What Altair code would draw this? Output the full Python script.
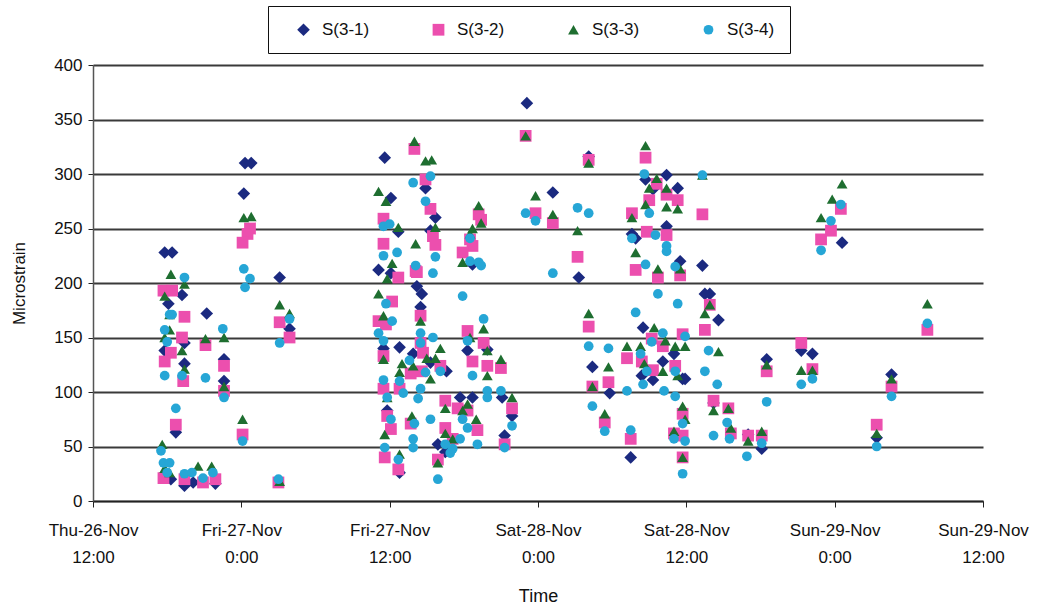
import json
import altair as alt
import pandas as pd

# ---------------- data (hours after Thu-26-Nov 12:00, microstrain) ----------------
SERIES = ["S(3-1)", "S(3-2)", "S(3-3)", "S(3-4)"]
COLORS = ["#1b2a80", "#ec4fae", "#1e6e30", "#26a6d6"]
SHAPES = ["diamond", "square", "triangle-up", "circle"]
MARK_SIZES = [160, 95, 115, 110]

s1_hours = [5.8, 6.4, 6.1, 7.2, 5.8, 7.4, 7.4, 9.2, 10.6, 10.6, 6.7, 6.3, 7.4, 8.1, 9.9,
            12.3, 12.8, 12.2, 15.1, 15.9,
            23.6, 24.1, 24.7, 23.1, 24.1, 26.2, 23.5, 24.8, 25.9, 23.8, 24.8,
            35.1, 26.9, 27.7, 27.3, 30.7, 37.2, 26.6, 26.5, 27.3, 28.6, 30.3, 31.9, 29.7, 30.7,
            33.1, 33.9, 33.3, 27.9, 28.5,
            39.3, 40.1, 44.7, 45.3, 46.4, 47.3, 43.6, 43.9, 46.4, 47.5, 44.5, 40.4, 41.8, 44.4,
            45.3, 46.1, 47.0, 47.7, 43.5,
            49.3, 49.9, 49.5, 50.6, 50.2, 53.0, 54.1, 54.5, 57.3, 58.2, 47.9,
            60.6, 64.6, 63.4]
s1_values = [228, 228, 181, 189, 138, 145, 126, 172, 130, 110, 63, 20, 14, 17, 16,
             310, 310, 282, 205, 158,
             315, 278, 247, 212, 209, 197, 140, 141, 135, 83, 26,
             365, 287, 260, 248, 217, 283, 190, 178, 127, 119, 138, 139, 95, 95,
             95, 78, 60, 52, 45,
             205, 316, 295, 286, 299, 287, 245, 241, 252, 220, 159, 123, 99, 115,
             111, 128, 135, 112, 40,
             216, 190, 190, 166, 90, 61, 48, 130, 138, 135, 112,
             237, 116, 58]

s2_hours = [5.7, 6.4, 7.4, 7.2, 9.1, 6.3, 5.8, 7.3, 10.6, 10.6, 6.7, 12.1, 5.7, 7.4, 8.9, 9.9,
            12.7, 12.5, 12.1, 15.1, 15.0, 15.9,
            26.0, 23.5, 23.5, 26.1, 24.7, 24.2, 23.1, 23.7, 23.5, 25.7, 23.5, 24.8, 23.8, 24.1,
            23.6, 24.7, 25.7,
            35.0, 26.9, 27.3, 27.5, 27.7, 26.2, 31.2, 31.4, 30.5, 30.7, 29.9, 35.8, 37.2, 26.5,
            26.5, 26.7, 28.1, 26.6, 30.3, 31.6, 30.7, 31.9, 33.0, 28.5, 29.5, 30.3, 33.9, 31.1,
            28.5, 29.1, 27.9, 33.3,
            40.1, 44.7, 45.6, 46.4, 45.0, 47.3, 43.6, 39.2, 44.8, 46.4, 43.9, 45.7, 47.5, 40.1,
            43.2, 45.2, 46.1, 47.7, 47.1, 44.4, 45.3, 41.7, 40.4, 41.4, 43.5, 47.0, 47.7, 47.7,
            47.7,
            49.3, 58.9, 49.9, 49.5, 50.2, 51.4, 51.6, 53.0, 54.1, 54.5, 57.3, 58.2,
            60.5, 59.7, 67.5, 64.6, 63.4]
s2_values = [193, 193, 169, 150, 143, 136, 128, 110, 124, 101, 70, 61, 21, 20, 17, 20,
             250, 245, 237, 164, 17, 150,
             323, 259, 236, 211, 205, 183, 165, 162, 133, 117, 103, 103, 78, 66,
             40, 29, 71,
             335, 295, 268, 243, 235, 210, 263, 258, 240, 234, 228, 264, 255, 170,
             145, 136, 124, 119, 156, 145, 128, 124, 122, 92, 85, 83, 85, 65,
             67, 57, 38, 52,
             313, 315, 291, 281, 276, 276, 264, 224, 247, 244, 212, 205, 207, 160,
             131, 149, 142, 153, 124, 128, 120, 109, 105, 72, 57, 62, 80, 60,
             40,
             263, 240, 180, 157, 92, 85, 62, 60, 60, 119, 145, 121,
             268, 248, 157, 105, 70]

s3_hours = [12.2, 12.8, 6.3, 7.4, 5.8, 6.2, 6.2, 5.8, 7.2, 9.1, 10.6, 7.4, 10.6, 12.1, 5.6,
            5.8, 6.2, 8.5, 9.6, 15.1, 15.9, 15.1,
            26.0, 23.1, 23.7, 24.7, 24.2, 26.1, 23.8, 23.1, 23.5, 23.5, 25.0, 25.9, 24.8, 23.8,
            23.6, 24.8, 25.8,
            35.0, 26.9, 27.4, 27.7, 31.2, 31.4, 30.7, 30.5, 29.9, 35.8, 37.2, 26.5, 28.1, 27.7,
            27.0, 27.3, 31.6, 30.5, 31.9, 31.9, 33.0, 28.5, 30.3, 29.9, 33.9, 31.0, 28.5, 29.1,
            27.9,
            44.7, 40.1, 45.6, 45.0, 46.4, 44.7, 46.4, 47.3, 43.6, 39.2, 43.9, 45.7, 47.5, 40.1,
            45.4, 43.2, 44.3, 46.3, 47.1, 47.9, 44.6, 46.1, 47.3, 41.7, 40.4, 41.4, 47.0, 47.7,
            47.9, 47.7,
            49.3, 58.9, 49.9, 49.5, 50.6, 50.2, 51.4, 51.6, 53.0, 54.1, 54.5, 57.3, 58.2,
            60.6, 59.8, 67.5, 64.6, 63.4]
s3_values = [260, 261, 208, 199, 188, 171, 157, 150, 138, 149, 150, 121, 105, 75, 52,
             30, 26, 32, 32, 180, 172, 18,
             330, 284, 275, 251, 218, 236, 204, 190, 170, 130, 126, 124, 118, 95,
             61, 43, 78,
             335, 312, 313, 251, 271, 255, 250, 245, 219, 280, 263, 165, 140, 131,
             131, 112, 158, 150, 138, 115, 130, 85, 89, 83, 95, 75, 62, 57,
             35,
             326, 310, 296, 287, 287, 272, 270, 268, 260, 248, 228, 213, 213, 172,
             159, 142, 142, 147, 142, 142, 126, 119, 115, 123, 105, 80, 64, 87,
             75, 40,
             299, 260, 180, 172, 137, 83, 85, 67, 55, 64, 125, 120, 120,
             291, 277, 181, 112, 62]

s4_hours = [12.2, 12.7, 12.3, 7.4, 6.2, 6.4, 5.8, 10.5, 6.0, 15.1, 7.2, 5.8, 9.1, 10.6, 6.7,
            12.1, 5.5, 5.7, 6.2, 6.0, 7.4, 8.0, 8.9, 9.7, 15.0, 15.9,
            25.9, 23.5, 24.0, 23.5, 24.6, 26.1, 23.7, 24.2, 23.1, 23.5, 25.6, 23.5, 24.8, 25.1,
            23.8, 24.1, 23.6, 24.7, 26.0, 25.9, 25.9,
            27.3, 26.9, 27.7, 27.5, 30.5, 30.5, 31.2, 31.4, 35.0, 35.8, 37.2, 29.9, 26.5, 27.5,
            26.5, 28.1, 26.9, 31.6, 30.3, 30.7, 26.5, 26.3, 31.9, 31.9, 33.0, 33.9, 27.3, 29.9,
            30.3, 29.7, 31.1, 28.5, 28.9, 29.1, 27.9, 33.3,
            44.6, 45.0, 39.2, 40.1, 43.6, 45.5, 46.4, 46.4, 44.7, 47.1, 45.7, 47.3, 43.9, 46.1,
            45.2, 47.9, 40.1, 41.7, 44.3, 44.8, 47.1, 44.5, 43.2, 46.2, 47.1, 40.4, 41.4, 43.5,
            47.0, 47.7, 47.9, 47.7,
            49.3, 58.9, 49.8, 49.5, 50.5, 50.2, 51.3, 51.5, 52.9, 54.1, 54.5, 57.3, 58.2,
            60.5, 59.7, 67.5, 64.6, 63.4]
s4_values = [213, 204, 196, 205, 171, 171, 157, 158, 146, 145, 115, 115, 113, 95, 85,
             55, 46, 35, 35, 26, 25, 26, 21, 26, 20, 167,
             292, 252, 254, 225, 228, 216, 181, 165, 154, 147, 129, 111, 110, 99,
             95, 75, 49, 38, 71, 57, 49,
             298, 275, 224, 209, 241, 220, 219, 216, 264, 257, 209, 188, 154, 150,
             145, 119, 118, 167, 147, 115, 103, 94, 101, 95, 101, 69, 75, 75,
             67, 57, 52, 52, 44, 48, 20, 49,
             300, 264, 269, 264, 241, 244, 234, 229, 217, 215, 190, 181, 173, 154,
             146, 151, 142, 140, 135, 119, 119, 107, 101, 101, 96, 87, 64, 65,
             57, 71, 55, 25,
             299, 230, 138, 119, 107, 60, 72, 57, 41, 53, 91, 107, 112,
             272, 257, 163, 96, 50]

TICK_HOURS = [0, 12, 24, 36, 48, 60, 72]
TICK_DAY = ["Thu-26-Nov", "Fri-27-Nov", "Fri-27-Nov", "Sat-28-Nov", "Sat-28-Nov",
            "Sun-29-Nov", "Sun-29-Nov"]
TICK_TIME = ["12:00", "0:00", "12:00", "0:00", "12:00", "0:00", "12:00"]
Y_TICKS = [0, 50, 100, 150, 200, 250, 300, 350, 400]

# ---------------- table ----------------
rows = []
for name, hrs, vals in zip(SERIES, [s1_hours, s2_hours, s3_hours, s4_hours],
                           [s1_values, s2_values, s3_values, s4_values]):
    for h, v in zip(hrs, vals):
        rows.append({"series": name, "hours": h, "value": v})
df = pd.DataFrame(rows)

label_pairs = json.dumps([[d, t] for d, t in zip(TICK_DAY, TICK_TIME)])
label_expr = f"{label_pairs}[round(datum.value / 12)]"

FONT = "Liberation Sans"

chart = alt.Chart(df).mark_point(filled=True, opacity=1).encode(
    x=alt.X("hours:Q",
            scale=alt.Scale(domain=[0, 72], nice=False, zero=False),
            axis=alt.Axis(values=TICK_HOURS, labelExpr=label_expr, grid=False,
                          title="Time", titleFontSize=18, titleFontWeight="normal",
                          titlePadding=22, labelFontSize=17, labelLineHeight=27,
                          labelPadding=15, tickSize=6, tickColor="#222",
                          domainColor="#222", domainWidth=1.5, labelColor="#111",
                          titleColor="#111", labelFont=FONT, titleFont=FONT,
                          labelOverlap=False, labelFlush=False)),
    y=alt.Y("value:Q",
            scale=alt.Scale(domain=[0, 400], nice=False),
            axis=alt.Axis(values=Y_TICKS, title="Microstrain", titleFontSize=17,
                          titleFontWeight="normal", titlePadding=25,
                          labelFontSize=17, labelPadding=6, tickSize=5,
                          tickColor="#222", domainColor="#555", domainWidth=1.5,
                          gridColor="#3a3a3a", gridWidth=2, labelColor="#111",
                          titleColor="#111", labelFont=FONT, titleFont=FONT)),
    color=alt.Color("series:N",
                    scale=alt.Scale(domain=SERIES, range=COLORS),
                    legend=alt.Legend(title=None, orient="none", legendX=175,
                                      legendY=-59, direction="horizontal",
                                      strokeColor="#111", padding=15,
                                      columnPadding=48, labelFontSize=17,
                                      labelFont=FONT, labelColor="#111",
                                      symbolSize=110, labelOffset=10,
                                      symbolOffset=12, fillColor="white")),
    shape=alt.Shape("series:N",
                    scale=alt.Scale(domain=SERIES, range=SHAPES),
                    legend=None),
    size=alt.Size("series:N",
                  scale=alt.Scale(domain=SERIES, range=MARK_SIZES),
                  legend=None),
).properties(
    width=890, height=436,
    padding={"left": 10, "top": 5, "right": 5, "bottom": 2},
    background="white",
).configure_view(strokeWidth=0)

chart.save("out.html", embed_options={"renderer": "svg", "actions": False})
